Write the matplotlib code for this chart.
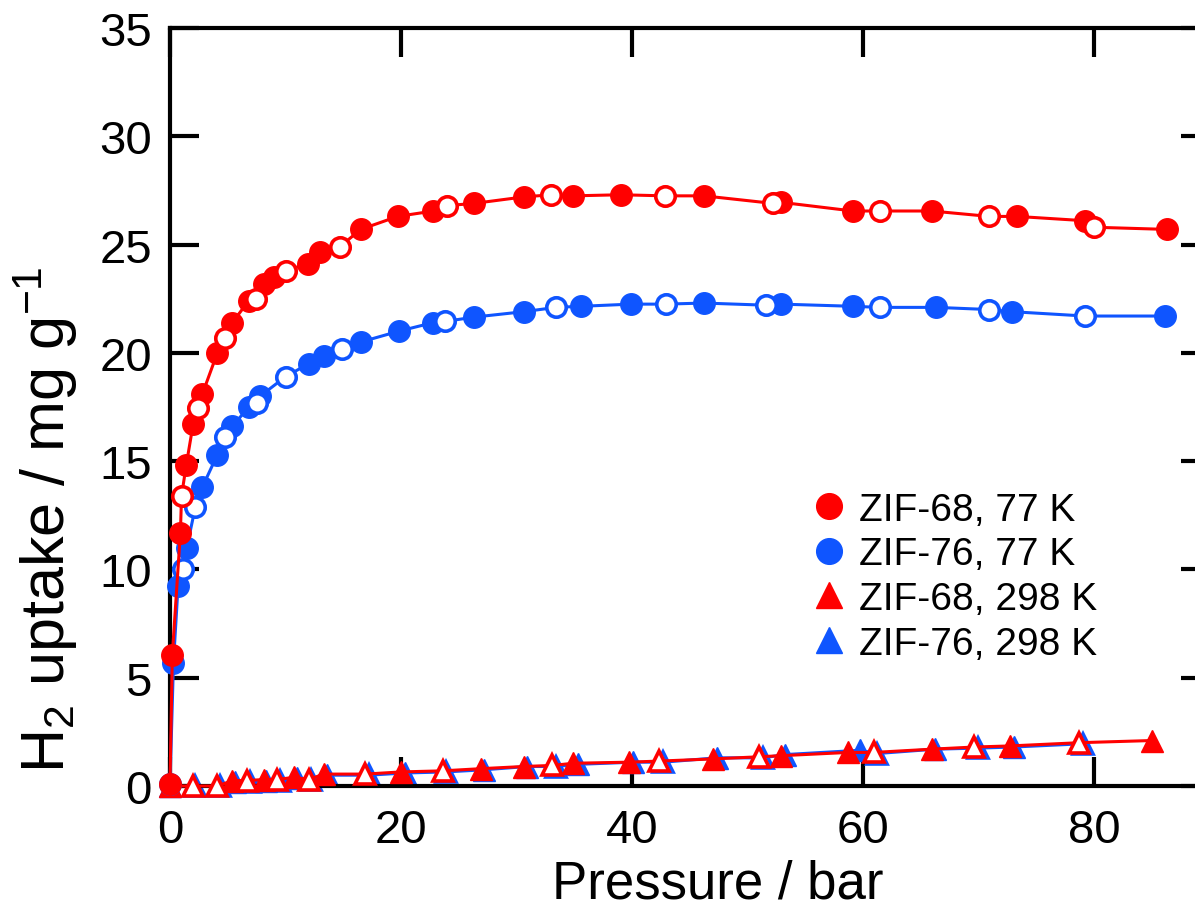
import matplotlib
matplotlib.use("Agg")
import matplotlib.pyplot as plt
from matplotlib.lines import Line2D

plt.rcParams["font.family"] = ["Liberation Sans", "DejaVu Sans"]
plt.rcParams["mathtext.fontset"] = "custom"
plt.rcParams["mathtext.rm"] = "Liberation Sans"
plt.rcParams["mathtext.it"] = "Liberation Sans"
plt.rcParams["mathtext.default"] = "regular"

RED = "#ff0000"
BLUE = "#0f55ff"

# ZIF-68, 77 K: adsorption (filled) and desorption (open)
p68_77_ads = [0.0, 0.2, 0.9, 1.4, 2.0, 2.8, 4.1, 5.4, 6.8, 8.1, 9.0, 11.9, 13.0,
              16.5, 19.7, 22.8, 26.3, 30.6, 34.9, 39.0, 46.2, 52.9, 59.1, 65.9,
              73.3, 79.2, 86.3]
u68_77_ads = [0.1, 6.05, 11.7, 14.8, 16.7, 18.1, 20.0, 21.4, 22.4, 23.2, 23.5,
              24.1, 24.65, 25.7, 26.3, 26.55, 26.9, 27.2, 27.25, 27.3, 27.25,
              26.95, 26.55, 26.55, 26.3, 26.1, 25.7]
p68_77_des = [1.0, 2.4, 4.8, 7.4, 10.0, 14.7, 24.0, 33.0, 42.8, 52.2, 61.4,
              70.9, 80.0]
u68_77_des = [13.4, 17.45, 20.7, 22.5, 23.8, 24.9, 26.8, 27.3, 27.25, 26.9,
              26.55, 26.3, 25.8]

# ZIF-76, 77 K
p76_77_ads = [0.0, 0.3, 0.7, 1.45, 2.8, 4.1, 5.4, 6.8, 7.8, 12.0, 13.3, 16.5,
              19.8, 22.8, 26.3, 30.6, 35.6, 39.9, 46.2, 52.9, 59.1, 66.3, 72.9,
              86.1]
u76_77_ads = [0.1, 5.7, 9.25, 11.0, 13.8, 15.3, 16.6, 17.5, 18.0, 19.5, 19.85,
              20.5, 21.0, 21.4, 21.65, 21.9, 22.15, 22.25, 22.3, 22.25, 22.15,
              22.1, 21.9, 21.7]
p76_77_des = [1.1, 2.2, 4.8, 7.5, 10.0, 14.9, 23.8, 33.4, 42.9, 51.6, 61.4,
              70.9, 79.2]
u76_77_des = [10.0, 12.9, 16.1, 17.7, 18.9, 20.2, 21.45, 22.1, 22.25, 22.2,
              22.1, 22.0, 21.7]

# ZIF-68, 298 K
p68_298_ads = [0.0, 5.4, 8.1, 10.7, 13.3, 20.0, 26.9, 30.6, 34.9, 39.7, 47.0,
               52.9, 58.7, 65.9, 72.7, 85.0]
u68_298_ads = [0.0, 0.25, 0.3, 0.4, 0.55, 0.65, 0.8, 0.9, 1.05, 1.1, 1.25, 1.4,
               1.55, 1.7, 1.85, 2.1]
p68_298_des = [2.0, 4.1, 6.7, 9.3, 12.0, 16.9, 23.6, 33.1, 42.3, 51.0, 60.9,
               69.6, 78.7]
u68_298_des = [0.0, 0.0, 0.25, 0.3, 0.3, 0.55, 0.7, 0.95, 1.15, 1.35, 1.55,
               1.8, 2.0]

# ZIF-76, 298 K
p76_298_ads = [0.0, 5.6, 8.3, 11.0, 13.6, 20.3, 27.2, 30.9, 35.3, 40.1, 47.3,
               53.2, 59.7, 66.2, 73.0]
u76_298_ads = [0.0, 0.2, 0.25, 0.35, 0.5, 0.6, 0.75, 0.9, 1.0, 1.1, 1.3, 1.45,
               1.65, 1.7, 1.8]
p76_298_des = [2.2, 4.3, 6.9, 9.5, 12.2, 17.2, 23.9, 33.4, 42.7, 51.3, 61.2,
               69.9, 79.0]
u76_298_des = [0.0, 0.0, 0.2, 0.25, 0.3, 0.5, 0.65, 0.9, 1.1, 1.3, 1.5, 1.75,
               1.95]

fig = plt.figure(figsize=(11.95, 9.2), dpi=100)
ax = fig.add_axes([170 / 1195, 1 - 787 / 920, 1040 / 1195, 758 / 920])

LW = 2.2
MS_C = 15.5
MS_T = 15.5
MEW = 2.6


def ms_for(m):
    return MS_C if m == "o" else MS_T


def isotherm(pa, ua, pd, ud, c, m, z):
    # one connecting line through all points in order of pressure
    pts = sorted(zip(pa + pd, ua + ud))
    ax.plot([p for p, _ in pts], [u for _, u in pts], color=c, lw=LW,
            zorder=z, clip_on=False)
    ax.plot(pa, ua, ls="none", marker=m, ms=ms_for(m), mfc=c, mec=c,
            zorder=z + 0.1, clip_on=False)
    ax.plot(pd, ud, ls="none", marker=m, ms=ms_for(m) - 1.5, mfc="white",
            mec=c, mew=MEW, zorder=z + 0.2, clip_on=False)


# 298 K isotherms (blue beneath red)
isotherm(p76_298_ads, u76_298_ads, p76_298_des, u76_298_des, BLUE, "^", 2)
isotherm(p68_298_ads, u68_298_ads, p68_298_des, u68_298_des, RED, "^", 3)
# 77 K isotherms
isotherm(p76_77_ads, u76_77_ads, p76_77_des, u76_77_des, BLUE, "o", 4)
isotherm(p68_77_ads, u68_77_ads, p68_77_des, u68_77_des, RED, "o", 5)

ax.set_xlim(0, 90)
ax.set_ylim(0, 35)
ax.set_xticks([0, 20, 40, 60, 80])
ax.set_yticks([0, 5, 10, 15, 20, 25, 30, 35])

for s in ax.spines.values():
    s.set_linewidth(3.0)
ax.tick_params(axis="both", direction="in", length=21, width=3.0,
               top=True, right=True, labelsize=34)
ax.tick_params(axis="x", pad=16)
ax.tick_params(axis="y", pad=13)

ax.set_xlabel("Pressure / bar", fontsize=38)
ax.set_ylabel("H$_2$ uptake / mg g$^{-1}$", fontsize=44)
ax.xaxis.set_label_coords(0.527, -0.128, transform=ax.transAxes)
ax.yaxis.set_label_coords(-0.12, 0.352, transform=ax.transAxes)
ax.xaxis.label.set_va("center")
ax.yaxis.label.set_va("center")

handles = [
    Line2D([], [], ls="none", marker="o", ms=18.5, color=RED),
    Line2D([], [], ls="none", marker="o", ms=18.5, color=BLUE),
    Line2D([], [], ls="none", marker="^", ms=18.5, color=RED),
    Line2D([], [], ls="none", marker="^", ms=18.5, color=BLUE),
]
labels = ["ZIF-68, 77 K", "ZIF-76, 77 K", "ZIF-68, 298 K", "ZIF-76, 298 K"]
ax.legend(handles, labels, loc="upper left", bbox_to_anchor=(0.616, 0.388),
          frameon=False, fontsize=28, handlelength=0.95, handletextpad=0.3,
          labelspacing=0.22, borderpad=0, borderaxespad=0)

fig.savefig("out.png", dpi=100)
